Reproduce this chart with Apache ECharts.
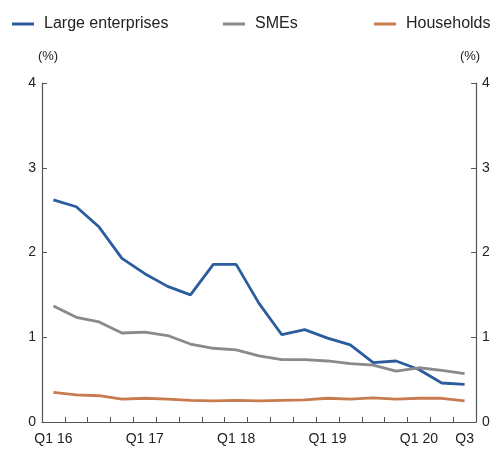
<!DOCTYPE html>
<html>
<head>
<meta charset="utf-8">
<script src="https://cdn.jsdelivr.net/npm/echarts@6/dist/echarts.min.js"></script>
<style>
html, body { margin: 0; padding: 0; background: #fff; }
#chart { width: 497px; height: 449px; }
</style>
</head>
<body>
<div id="chart"></div>
<script>
// quarters Q1 16 .. Q3 20
var quarters = ["Q1 16", "Q2 16", "Q3 16", "Q4 16", "Q1 17", "Q2 17", "Q3 17", "Q4 17",
    "Q1 18", "Q2 18", "Q3 18", "Q4 18", "Q1 19", "Q2 19", "Q3 19", "Q4 19",
    "Q1 20", "Q2 20", "Q3 20"];
var tickLabels = ["Q1 16", "", "", "", "Q1 17", "", "", "", "Q1 18", "", "", "",
    "Q1 19", "", "", "", "Q1 20", "", "Q3"];

var largeEnterprises = [2.62, 2.54, 2.30, 1.93, 1.75, 1.60, 1.50, 1.86, 1.86, 1.40,
    1.03, 1.09, 0.99, 0.91, 0.70, 0.72, 0.62, 0.46, 0.445];
var smes = [1.37, 1.235, 1.18, 1.05, 1.06, 1.02, 0.92, 0.87, 0.85, 0.78,
    0.735, 0.735, 0.72, 0.69, 0.67, 0.60, 0.64, 0.61, 0.57];
var households = [0.35, 0.32, 0.31, 0.27, 0.28, 0.27, 0.255, 0.25, 0.255, 0.25,
    0.255, 0.26, 0.28, 0.27, 0.285, 0.27, 0.28, 0.28, 0.25];

var colors = {blue: "#2b5c9e", gray: "#8a8a8c", orange: "#c97b50"};
var font = "Liberation Sans, Arial, sans-serif";

function legendAt(left, name) {
    return {
        left: left, top: 11,
        icon: "rect", itemWidth: 22, itemHeight: 3,
        data: [name],
        selectedMode: false,
        textStyle: {fontFamily: font, fontSize: 16, color: "#222", padding: [0, 0, 0, 5]}
    };
}

function valueAxis(pos) {
    return {
        type: "value", position: pos,
        min: 0, max: 4, interval: 1,
        name: "(%)", nameLocation: "end", nameGap: 20,
        nameTextStyle: {fontFamily: font, fontSize: 13, color: "#222",
            padding: pos == "left" ? [0, 0, 0, 12] : [0, 12, 0, 0]},
        axisLine: {show: true, lineStyle: {color: "#555", width: 1.2}},
        axisTick: {show: true, inside: true, length: 5, lineStyle: {color: "#555"}},
        axisLabel: {fontFamily: font, fontSize: 14, color: "#222", margin: 6},
        splitLine: {show: false}
    };
}

var myChart = echarts.init(document.getElementById("chart"));
myChart.setOption({
    animation: false,
    legend: [legendAt(7, "Large enterprises"), legendAt(218, "SMEs"), legendAt(369, "Households")],
    grid: {left: 42, right: 21, top: 83, bottom: 27, containLabel: false},
    xAxis: {
        type: "category", data: quarters, boundaryGap: true,
        axisLine: {lineStyle: {color: "#555", width: 1.2}},
        axisTick: {show: true, inside: true, length: 5, interval: 0, lineStyle: {color: "#555"}},
        axisLabel: {
            interval: 0, fontFamily: font, fontSize: 14, color: "#222", margin: 10,
            formatter: function (v, i) { return tickLabels[i]; }
        }
    },
    yAxis: [valueAxis("left"), valueAxis("right")],
    series: [
        {name: "Large enterprises", type: "line", data: largeEnterprises, showSymbol: false,
            lineStyle: {color: colors.blue, width: 2.8}, itemStyle: {color: colors.blue}},
        {name: "SMEs", type: "line", data: smes, showSymbol: false,
            lineStyle: {color: colors.gray, width: 2.8}, itemStyle: {color: colors.gray}},
        {name: "Households", type: "line", data: households, showSymbol: false,
            lineStyle: {color: colors.orange, width: 2.8}, itemStyle: {color: colors.orange}}
    ]
});
</script>
</body>
</html>
